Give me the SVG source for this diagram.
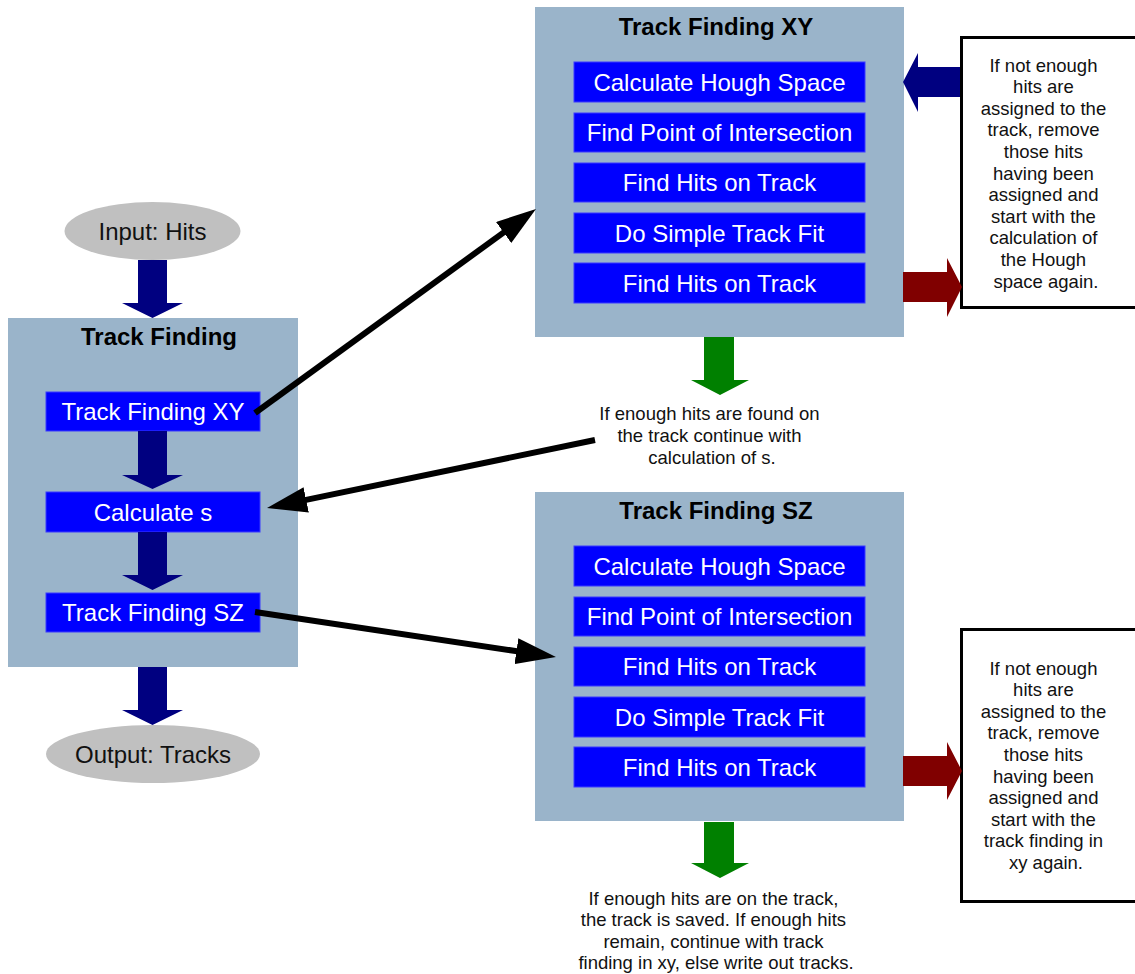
<svg xmlns="http://www.w3.org/2000/svg" width="1135" height="974" viewBox="0 0 1135 974">
<style>
.panel{fill:#9ab4ca}
.step{fill:#0000ff;stroke:#3b3bff;stroke-width:1}
.st{font-family:"Liberation Sans",Arial,sans-serif;font-size:24px;fill:#ffffff;text-anchor:middle}
.tt{font-family:"Liberation Sans",Arial,sans-serif;font-size:24px;font-weight:bold;fill:#000000;text-anchor:middle}
.et{font-family:"Liberation Sans",Arial,sans-serif;font-size:24px;fill:#111111;text-anchor:middle}
.ct{font-family:"Liberation Sans",Arial,sans-serif;font-size:18.5px;fill:#111111;text-anchor:middle}
.ell{fill:#c0c0c0}
.note{fill:#ffffff;stroke:#000000;stroke-width:3}
.navy{fill:#000080}
.green{fill:#008000}
.red{fill:#800000}
.conn{stroke:#000000;stroke-width:6;fill:none;marker-end:url(#ah)}
</style>
<defs>
<marker id="ah" viewBox="0 0 40 26" refX="10" refY="13" markerWidth="40" markerHeight="26" markerUnits="userSpaceOnUse" orient="auto">
<path d="M0,0 L40,13 L0,26 z" fill="#000000"/>
</marker>
</defs>
<rect width="1135" height="974" fill="#ffffff"/>

<g id="input">
<ellipse class="ell" cx="152.5" cy="231" rx="88" ry="29"/>
<text class="et" x="152.5" y="239.5">Input: Hits</text>
</g>

<g id="track-finding">
<rect class="panel" x="8" y="318" width="290" height="349"/>
<text class="tt" x="159" y="345">Track Finding</text>
</g>
<g id="tf-xy">
<rect class="step" x="46" y="392" width="214" height="39"/>
<text class="st" x="153" y="420">Track Finding XY</text>
</g>
<g id="calc-s">
<rect class="step" x="46" y="492" width="214" height="40"/>
<text class="st" x="153" y="520.5">Calculate s</text>
</g>
<g id="tf-sz">
<rect class="step" x="46" y="593" width="214" height="39"/>
<text class="st" x="153" y="621">Track Finding SZ</text>
</g>

<g id="output">
<ellipse class="ell" cx="153" cy="754" rx="107" ry="29"/>
<text class="et" x="153" y="762.5">Output: Tracks</text>
</g>

<g id="xy-panel">
<rect class="panel" x="535" y="7" width="369" height="330"/>
<text class="tt" x="716" y="35">Track Finding XY</text>
<rect class="step" x="574" y="62" width="291" height="40"/>
<text class="st" x="719.5" y="90.5">Calculate Hough Space</text>
<rect class="step" x="574" y="113" width="291" height="39"/>
<text class="st" x="719.5" y="141">Find Point of Intersection</text>
<rect class="step" x="574" y="163" width="291" height="39"/>
<text class="st" x="719.5" y="191">Find Hits on Track</text>
<rect class="step" x="574" y="213" width="291" height="40"/>
<text class="st" x="719.5" y="241.5">Do Simple Track Fit</text>
<rect class="step" x="574" y="263" width="291" height="40"/>
<text class="st" x="719.5" y="291.5">Find Hits on Track</text>
</g>

<g id="sz-panel">
<rect class="panel" x="535" y="492" width="369" height="329"/>
<text class="tt" x="716" y="519">Track Finding SZ</text>
<rect class="step" x="574" y="546" width="291" height="40"/>
<text class="st" x="719.5" y="574.5">Calculate Hough Space</text>
<rect class="step" x="574" y="597" width="291" height="39"/>
<text class="st" x="719.5" y="625">Find Point of Intersection</text>
<rect class="step" x="574" y="647" width="291" height="39"/>
<text class="st" x="719.5" y="675">Find Hits on Track</text>
<rect class="step" x="574" y="697" width="291" height="40"/>
<text class="st" x="719.5" y="725.5">Do Simple Track Fit</text>
<rect class="step" x="574" y="747" width="291" height="40"/>
<text class="st" x="719.5" y="775.5">Find Hits on Track</text>
</g>

<g id="note-xy">
<rect class="note" x="961.5" y="37.5" width="185" height="270"/>
<text class="ct">
<tspan x="1046" y="71.6">If not enough</tspan>
<tspan x="1046" y="93.2">hits are</tspan>
<tspan x="1046" y="114.8">assigned to the</tspan>
<tspan x="1046" y="136.4">track, remove</tspan>
<tspan x="1046" y="158">those hits</tspan>
<tspan x="1046" y="179.6">having been</tspan>
<tspan x="1046" y="201.2">assigned and</tspan>
<tspan x="1046" y="222.8">start with the</tspan>
<tspan x="1046" y="244.4">calculation of</tspan>
<tspan x="1046" y="266">the Hough</tspan>
<tspan x="1046" y="287.6">space again.</tspan>
</text>
</g>

<g id="note-sz">
<rect class="note" x="961.5" y="629.5" width="185" height="272"/>
<text class="ct">
<tspan x="1046" y="674.6">If not enough</tspan>
<tspan x="1046" y="696.2">hits are</tspan>
<tspan x="1046" y="717.8">assigned to the</tspan>
<tspan x="1046" y="739.4">track, remove</tspan>
<tspan x="1046" y="761">those hits</tspan>
<tspan x="1046" y="782.6">having been</tspan>
<tspan x="1046" y="804.2">assigned and</tspan>
<tspan x="1046" y="825.8">start with the</tspan>
<tspan x="1046" y="847.4">track finding in</tspan>
<tspan x="1046" y="869">xy again.</tspan>
</text>
</g>

<g id="caption-xy">
<text class="ct">
<tspan x="712" y="419.6">If enough hits are found on</tspan>
<tspan x="712" y="441.6">the track continue with</tspan>
<tspan x="712" y="463.6">calculation of s.</tspan>
</text>
</g>

<g id="caption-sz">
<text class="ct">
<tspan x="716" y="904.6">If enough hits are on the track,</tspan>
<tspan x="716" y="926">the track is saved. If enough hits</tspan>
<tspan x="716" y="947.6">remain, continue with track</tspan>
<tspan x="716" y="969">finding in xy, else write out tracks.</tspan>
</text>
</g>

<g id="connectors">
<polygon class="navy" points="138,260 167,260 167,303 183,303 152.5,318 122,303 138,303"/>
<polygon class="navy" points="138,431 167,431 167,475 183,475 152.5,489 122,475 138,475"/>
<polygon class="navy" points="138,532 167,532 167,575 183,575 152.5,590 122,575 138,575"/>
<polygon class="navy" points="138,667 167,667 167,710 183,710 152.5,725 122,710 138,710"/>
<polygon class="green" points="704,337 734,337 734,380 749,380 720,395 691,380 704,380"/>
<polygon class="green" points="704,822 734,822 734,863 749,863 720,878 691,863 704,863"/>
<polygon class="navy" points="960,67 918,67 918,53 903,82 918,112 918,97 960,97"/>
<polygon class="red" points="903,272 947,272 947,258 962,287 947,317 947,302 903,302"/>
<polygon class="red" points="903,756 947,756 947,742 962,771 947,800 947,786 903,786"/>
<path class="conn" d="M255,413 L511.7,226.6"/>
<path class="conn" d="M595,440 L296.4,501.9"/>
<path class="conn" d="M255,612 L526.3,652.6"/>
</g>
</svg>
